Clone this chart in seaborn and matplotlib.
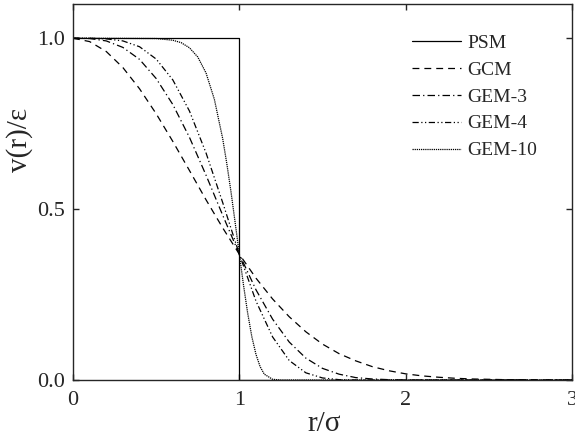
import numpy as np
import pandas as pd
import matplotlib
matplotlib.use("Agg")
import matplotlib.pyplot as plt
import seaborn as sns

# ---- data ----
r_psm = [0.0, 1.0, 1.0, 3.0]
v_psm = [1.0, 1.0, 0.0, 0.0]

r_gcm = [0.0, 0.1, 0.2, 0.3, 0.4, 0.5, 0.6, 0.7, 0.8, 0.9, 1.0, 1.1, 1.2, 1.3, 1.4, 1.5,
         1.6, 1.7, 1.8, 1.9, 2.0, 2.1, 2.2, 2.3, 2.4, 2.5, 2.6, 2.7, 2.8, 2.9, 3.0]
v_gcm = [1.000, 0.990, 0.961, 0.914, 0.852, 0.779, 0.698, 0.613, 0.527, 0.445, 0.368,
         0.298, 0.237, 0.185, 0.141, 0.105, 0.077, 0.056, 0.039, 0.027, 0.018, 0.012,
         0.008, 0.005, 0.003, 0.002, 0.001, 0.001, 0.000, 0.000, 0.000]

r_gem3 = [0.0, 0.1, 0.2, 0.3, 0.4, 0.5, 0.6, 0.7, 0.8, 0.9, 1.0, 1.1, 1.2, 1.3, 1.4, 1.5,
          1.6, 1.7, 1.8, 1.9, 2.0, 3.0]
v_gem3 = [1.000, 0.999, 0.992, 0.973, 0.938, 0.882, 0.806, 0.710, 0.599, 0.482, 0.368,
          0.264, 0.178, 0.111, 0.064, 0.034, 0.017, 0.007, 0.003, 0.001, 0.000, 0.000]

r_gem4 = [0.0, 0.1, 0.2, 0.3, 0.4, 0.5, 0.6, 0.7, 0.8, 0.9, 1.0, 1.1, 1.2, 1.3, 1.4, 1.5,
          1.6, 1.7, 3.0]
v_gem4 = [1.000, 1.000, 0.998, 0.992, 0.975, 0.939, 0.878, 0.787, 0.664, 0.519, 0.368,
          0.231, 0.126, 0.057, 0.021, 0.006, 0.001, 0.000, 0.000]

r_gem10 = [0.0, 0.5, 0.6, 0.65, 0.7, 0.75, 0.8, 0.85, 0.9, 0.925, 0.95, 0.975, 1.0,
           1.025, 1.05, 1.075, 1.1, 1.125, 1.15, 1.2, 1.25, 1.3, 3.0]
v_gem10 = [1.000, 0.999, 0.994, 0.987, 0.972, 0.945, 0.898, 0.821, 0.706, 0.632, 0.550,
           0.460, 0.368, 0.278, 0.196, 0.127, 0.075, 0.039, 0.017, 0.002, 0.000, 0.000,
           0.000]

labels = ["PSM", "GCM", "GEM-3", "GEM-4", "GEM-10"]
xticks = [0, 1, 2, 3]
yticks = [0.0, 0.5, 1.0]
ytick_labels = ["0.0", "0.5", "1.0"]

sns.set_style("ticks")
plt.rcParams["font.family"] = ["Liberation Serif", "DejaVu Serif"]

W, H = 575, 443
fig = plt.figure(figsize=(W / 100, H / 100), dpi=100)
L, R, T, B = 73, 572, 4, 380
ax = fig.add_axes([L / W, 1 - B / H, (R - L) / W, (B - T) / H])

series = [(r_psm, v_psm), (r_gcm, v_gcm), (r_gem3, v_gem3), (r_gem4, v_gem4),
          (r_gem10, v_gem10)]
styles = [None, (5.5, 4), (6, 2.5, 1, 2.5), (5, 2, 1, 2, 1, 2), (1, 0.7)]

for (r, v), lab, dash in zip(series, labels, styles):
    df = pd.DataFrame({"r": r, "v": v})
    sns.lineplot(data=df, x="r", y="v", ax=ax, sort=False, estimator=None,
                 color="black", lw=0.9, label=lab)
    line = ax.get_lines()[-1]
    if dash is not None:
        line.set_dashes(dash)

ax.set_xlim(0, 3)
ax.set_ylim(0, 1.1)
ax.set_xticks(xticks)
ax.set_yticks(yticks)
ax.set_yticklabels(ytick_labels)
ax.tick_params(direction="in", labelsize=16, length=4.5, width=1,
               top=True, right=True)
ax.tick_params(axis="x", pad=8)
ax.tick_params(axis="y", pad=5.5)
for s in ax.spines.values():
    s.set_linewidth(1.0)
    s.set_visible(True)
ax.set_xlabel("r/σ", fontsize=21)
ax.xaxis.set_label_coords(0.503, -0.152)
ax.xaxis.label.set_va("bottom")
ax.set_ylabel("v(r)/ε", fontsize=21)
ax.yaxis.set_label_coords(-0.080, 0.638)

leg = ax.legend(loc="upper left", bbox_to_anchor=((412 - L) / (R - L), (B - 34) / (B - T)),
                frameon=False, borderpad=0, borderaxespad=0,
                fontsize=14, handlelength=2.5, handletextpad=0.35, labelspacing=0.48)

fig.savefig("out.png", dpi=100)
